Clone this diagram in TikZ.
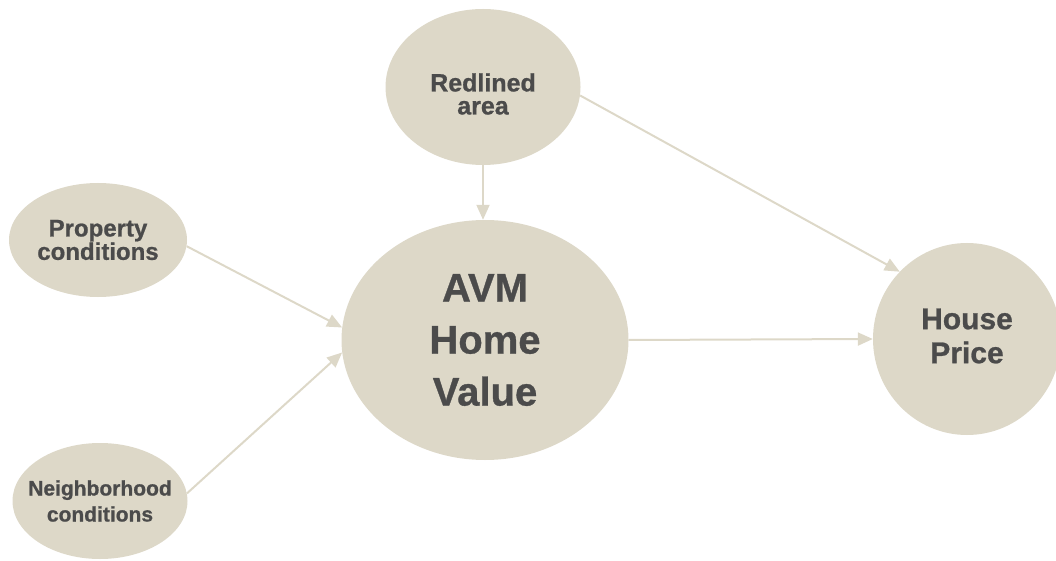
\documentclass[tikz,border=0pt]{standalone}
\usepackage{fontspec}
\setmainfont{Liberation Sans}[BoldFeatures={FakeBold=0.8}]
\usetikzlibrary{arrows.meta,shapes.geometric}
\definecolor{sand}{HTML}{DDD8C8}
\definecolor{ink}{HTML}{4B4B4B}
\tikzset{
  x=1pt, y=1pt,
  bubble/.style={ellipse, fill=sand, inner sep=0pt},
  caption/.style={text=ink, align=center, inner sep=0pt},
  link/.style={draw=sand, line width=2pt, -{Triangle[length=15pt,width=13pt]}}
}
\begin{document}
\begin{tikzpicture}
\useasboundingbox (0,0) rectangle (1056,560);
% factors
\node[bubble, minimum width=195pt, minimum height=156pt,
  label={[caption, yshift=-7pt, font=\bfseries\fontsize{25}{23}\selectfont]center:{Redlined\\area}}] (red) at (483,473) {};
\node[bubble, minimum width=178pt, minimum height=114pt,
  label={[caption, font=\bfseries\fontsize{24}{22}\selectfont]center:{Property\\conditions}}] (prop) at (98,320) {};
\node[bubble, minimum width=175pt, minimum height=116pt,
  label={[caption, font=\bfseries\fontsize{21}{26}\selectfont]center:{Neighborhood\\conditions}}] (nbhd) at (100,59) {};
% estimate and outcome
\node[bubble, minimum width=287pt, minimum height=240pt,
  label={[caption, font=\bfseries\fontsize{40}{52}\selectfont]center:{AVM\\Home\\Value}}] (avm) at (485,220) {};
\node[bubble, minimum width=188pt, minimum height=192pt,
  label={[caption, yshift=3pt, font=\bfseries\fontsize{30}{34}\selectfont]center:{House\\Price}}] (house) at (967,221) {};
% causal links
\draw[link] (red.south) -- (red.south |- avm.north);
\draw[link] (red.-5) -- (house.135);
\draw[link] (prop.-4) -- (avm.175);
\draw[link] (nbhd.5) -- (avm.185);
\draw[link] (avm.east) -- (house.west);
\end{tikzpicture}
\end{document}
